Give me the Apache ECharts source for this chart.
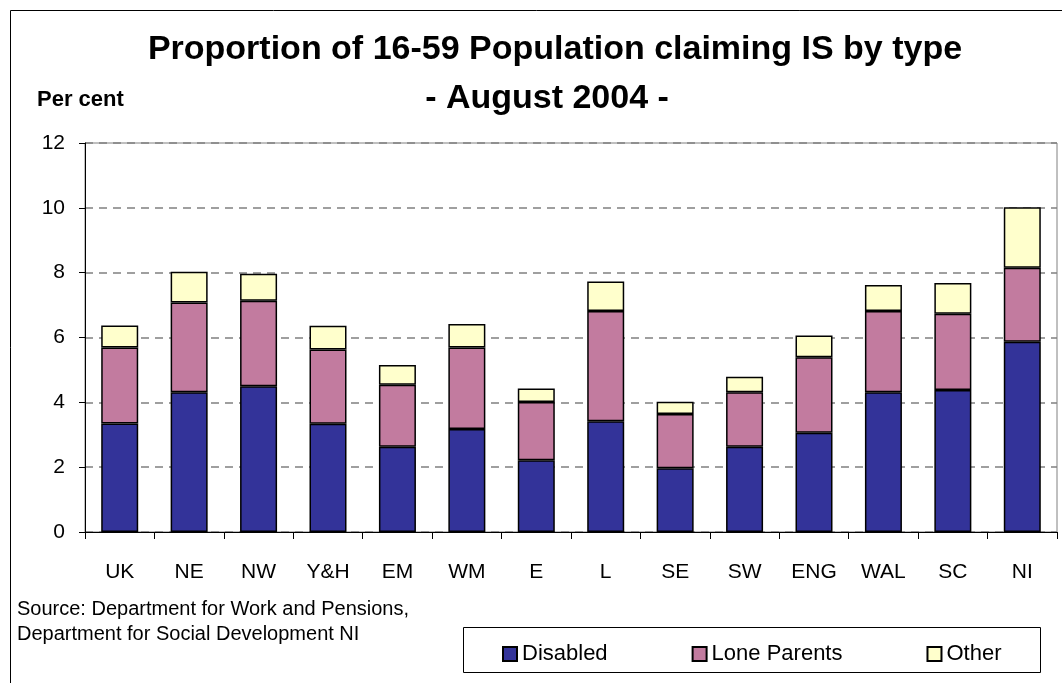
<!DOCTYPE html>
<html>
<head>
<meta charset="utf-8">
<title>IS claimants by type</title>
<script src="https://cdn.jsdelivr.net/npm/echarts@6/dist/echarts.min.js"></script>
<style>
  html, body { margin: 0; padding: 0; background: #fff; }
  #chart { width: 1062px; height: 683px; }
</style>
</head>
<body>
<div id="chart"></div>
<script>
// regions along the x axis
const regions = ['UK', 'NE', 'NW', 'Y&H', 'EM', 'WM', 'E', 'L', 'SE', 'SW', 'ENG', 'WAL', 'SC', 'NI'];

// per cent of 16-59 population
const disabled    = [3.35, 4.31, 4.50, 3.34, 2.63, 3.18, 2.21, 3.42, 1.97, 2.63, 3.06, 4.31, 4.38, 5.87];
const loneParents = [2.34, 2.77, 2.63, 2.29, 1.91, 2.51, 1.80, 3.40, 1.67, 1.68, 2.33, 2.51, 2.35, 2.28];
const other       = [0.68, 0.95, 0.84, 0.73, 0.61, 0.73, 0.42, 0.91, 0.38, 0.48, 0.67, 0.80, 0.95, 1.87];

const yTicks = [0, 2, 4, 6, 8, 10, 12];

const font = 'Liberation Sans, Arial, sans-serif';
const chart = echarts.init(document.getElementById('chart'), null, { renderer: 'canvas' });

function barSeries(name, data, color) {
    return {
        name: name,
        type: 'bar',
        stack: 'total',
        barWidth: 37,
        data: data,
        itemStyle: {
            color: color,
            borderColor: '#000',
            borderWidth: 1.5
        },
        emphasis: { disabled: true }
    };
}

var option = {
    backgroundColor: '#ffffff',
    animation: false,
    textStyle: { fontFamily: font },
    grid: {
        left: 85,
        right: 5,
        top: 143,
        bottom: 151,
        show: true,
        borderColor: '#808080',
        borderWidth: 1
    },
    legend: {
        data: ['Disabled', 'Lone Parents', 'Other'],
        left: 497,
        top: 638,
        itemWidth: 14,
        itemHeight: 14,
        itemGap: 84,
        icon: 'rect',
        textStyle: { fontSize: 22, color: '#000', fontFamily: font },
        selectedMode: false
    },
    xAxis: {
        type: 'category',
        data: regions,
        axisLine: { lineStyle: { color: '#000', width: 1 } },
        axisTick: { show: true, length: 7, lineStyle: { color: '#000' } },
        axisLabel: { fontSize: 21, color: '#000', margin: 30, fontFamily: font }
    },
    yAxis: {
        type: 'value',
        min: yTicks[0],
        max: yTicks[yTicks.length - 1],
        interval: 2,
        axisLine: { show: true, lineStyle: { color: '#000', width: 1 } },
        axisTick: { show: true, length: 6, lineStyle: { color: '#000' } },
        axisLabel: { fontSize: 21, color: '#000', margin: 20, fontFamily: font },
        splitLine: {
            show: true,
            lineStyle: { color: '#808080', type: [8, 6], width: 1.5 }
        }
    },
    series: [
        barSeries('Disabled', disabled, '#333399'),
        barSeries('Lone Parents', loneParents, '#C27B9F'),
        barSeries('Other', other, '#FFFFCC')
    ],
    graphic: [
        {
            type: 'rect',
            shape: { x: 10.5, y: 10.5, width: 1080, height: 700 },
            style: { fill: 'none', stroke: '#000', lineWidth: 1 },
            silent: true
        },
        // title, two lines
        {
            type: 'text',
            x: 555,
            y: 50,
            style: {
                text: 'Proportion of 16-59 Population claiming IS by type',
                font: 'bold 34px ' + font,
                fill: '#000',
                align: 'center',
                verticalAlign: 'middle'
            }
        },
        {
            type: 'text',
            x: 547,
            y: 99,
            style: {
                text: '- August 2004 -',
                font: 'bold 34px ' + font,
                fill: '#000',
                align: 'center',
                verticalAlign: 'middle'
            }
        },
        {
            type: 'text',
            left: 37,
            top: 89,
            style: { text: 'Per cent', font: 'bold 22px ' + font, fill: '#000' }
        },
        {
            type: 'text',
            left: 17,
            top: 597,
            style: {
                text: 'Source: Department for Work and Pensions,\nDepartment for Social Development NI',
                font: '20px ' + font,
                lineHeight: 25,
                fill: '#000'
            }
        },
        {
            type: 'rect',
            shape: { x: 463.5, y: 627.5, width: 577, height: 45 },
            style: { fill: 'none', stroke: '#000', lineWidth: 1 },
            silent: true
        }
    ]
};

chart.setOption(option);
</script>
</body>
</html>
